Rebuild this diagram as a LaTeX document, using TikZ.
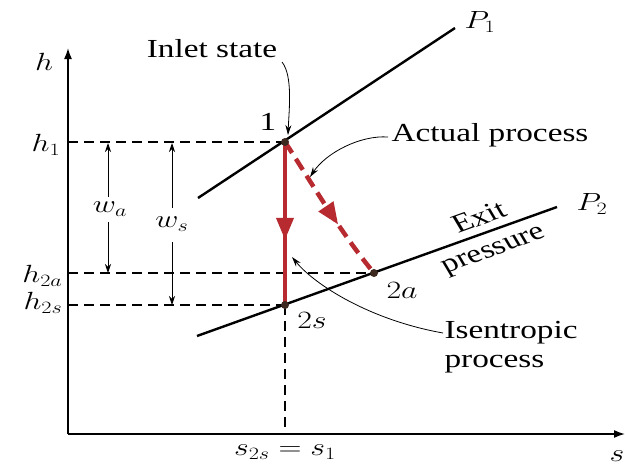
\documentclass[tikz,border=0pt]{standalone}
\usepackage{fontspec}
\setmainfont{Liberation Serif}
\usetikzlibrary{arrows.meta,decorations.markings}
\definecolor{procred}{RGB}{182,42,48}
\definecolor{dotcol}{RGB}{60,40,30}
\begin{document}
\begin{tikzpicture}[x=1pt,y=-1pt,
  txt/.style={font=\fontsize{26}{30}\selectfont, xscale=1.28, inner sep=1pt},
  axisline/.style={line width=1.6pt, -{Latex[length=11pt,width=8pt]}},
  isobar/.style={line width=2.4pt},
  guide/.style={line width=1.2pt, dash pattern=on 10pt off 6pt},
  warrow/.style={line width=0.8pt, -{Stealth[length=9pt,width=6pt]}},
  callout/.style={line width=0.8pt, -{Stealth[length=10pt,width=6pt]}},
  state/.style={circle, fill=dotcol, inner sep=0pt, minimum size=8pt},
  redarrow/.style={postaction={decorate, decoration={markings,
      mark=at position #1 with {\arrow{Triangle[length=22pt,width=17pt]}}}}}
]
\useasboundingbox (0,0) rectangle (625,466);
\fill[white] (0,0) rectangle (625,466);
% axes
\coordinate (O) at (68,434);
\coordinate (ytop) at (68,48);
\coordinate (xend) at (625,434);
\draw[axisline] (O) -- (ytop);
\draw[axisline] (O) -- (xend);
\node[txt] (hlab) at (44,62) {$h$};
\node[txt] (slab) at (617,456) {$s$};
% isobars
\coordinate (p1a) at (198,198);
\coordinate (p1b) at (455,28);
\coordinate (p2a) at (197,336);
\coordinate (p2b) at (557,207);
\draw[isobar] (p1a) -- (p1b);
\draw[isobar] (p2a) -- (p2b);
\node[txt] (P1) at (480,22) {$P_1$};
\node[txt] (P2) at (592,204) {$P_2$};
\node[txt, rotate=24.9] (exit) at (479,217) {Exit};
\node[txt, rotate=24.9] (pres) at (495,252) {pressure};
% states
\coordinate (s1) at (285,142);
\coordinate (s2s) at (285,305);
\coordinate (s2a) at (374,273);
% guides
\coordinate (h1y) at (68,142);
\coordinate (h2ay) at (68,273);
\coordinate (h2sy) at (68,305);
\coordinate (sx) at (285,434);
\draw[guide] (h1y) -- (s1);
\draw[guide] (h2ay) -- (s2a);
\draw[guide] (h2sy) -- (s2s);
\draw[guide] (s2s) -- (sx);
\node[txt, anchor=east] (h1) at (62,145) {$h_1$};
\node[txt, anchor=east] (h2a) at (64,276) {$h_{2a}$};
\node[txt, anchor=east] (h2s) at (64,303) {$h_{2s}$};
\node[txt] (sbot) at (285,452) {$s_{2s}=s_1$};
% work arrows
\node[txt] (wa) at (110,209) {$w_a$};
\node[txt] (ws) at (172,224) {$w_s$};
\coordinate (wat) at (108,143);
\coordinate (wab) at (108,273);
\coordinate (wst) at (172,143);
\coordinate (wsb) at (172,305);
\draw[warrow] (108,197) -- (wat);
\draw[warrow] (108,222) -- (wab);
\draw[warrow] (172,208) -- (wst);
\draw[warrow] (172,242) -- (wsb);
% processes
\draw[procred, line width=4pt, redarrow=0.6] (s1) -- (s2s);
\draw[procred, line width=4.5pt, dash pattern=on 13pt off 7pt, redarrow=0.62]
  (s1) .. controls (310,180) and (340,232) .. (s2a);
\node[state] (n1) at (s1) {};
\node[state] (n2s) at (s2s) {};
\node[state] (n2a) at (s2a) {};
\node[txt] (l1) at (268,122) {1};
\node[txt] (l2a) at (402,290) {$2a$};
\node[txt] (l2s) at (312,320) {$2s$};
% callouts
\node[txt] (inlet) at (212,49) {Inlet state};
\node[txt] (actual) at (490,135) {Actual process};
\node[txt, anchor=west] (isen) at (443,333) {Isentropic};
\node[txt, anchor=west] (isen2) at (443,364) {process};
\coordinate (inletend) at (288,135);
\coordinate (actualend) at (310,177);
\coordinate (isenend) at (292,257);
\draw[callout] (282,62) .. controls (293,76) and (289,110) .. (inletend);
\draw[callout] (388,137) .. controls (360,135) and (326,153) .. (actualend);
\draw[callout] (isen.west) .. controls (370,320) and (315,285) .. (isenend);
\end{tikzpicture}
\end{document}
